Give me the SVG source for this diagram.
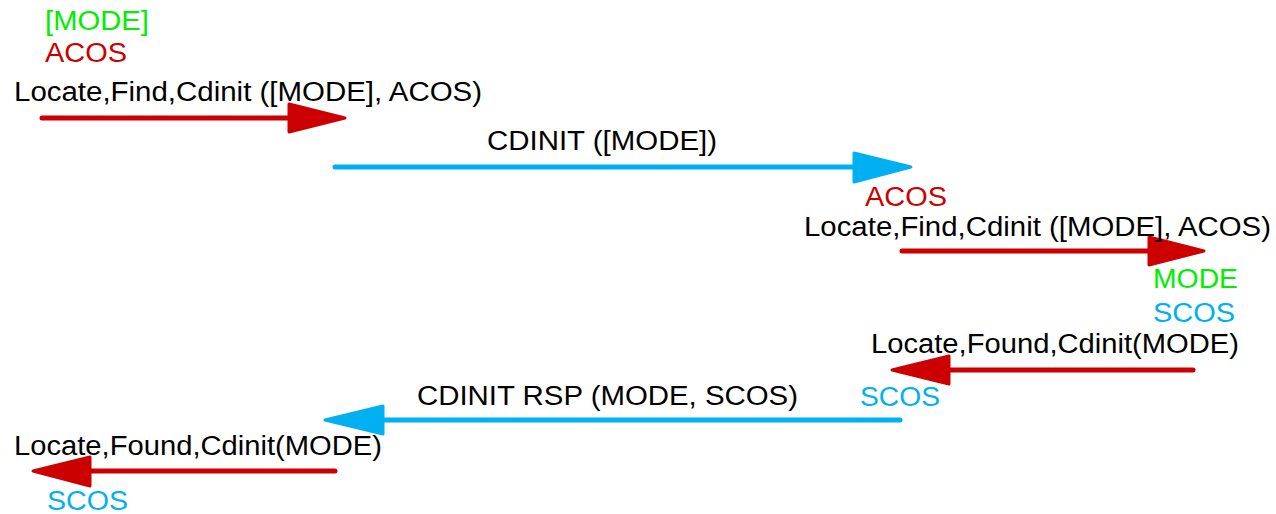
<svg xmlns="http://www.w3.org/2000/svg" width="1276" height="514" viewBox="0 0 1276 514">
  <style>
    text { font-family: "Liberation Sans", Arial, sans-serif; font-size: 27px; }
    .blk { fill: #000000; }
    .red { fill: #cc0000; }
    .grn { fill: #00ee00; }
    .blu { fill: #00b0f0; }
    .lr { stroke: #cc0000; stroke-width: 5; stroke-linecap: round; fill: none; }
    .lb { stroke: #00b0f0; stroke-width: 5; stroke-linecap: round; fill: none; }
    .hr { fill: #cc0000; stroke: #cc0000; stroke-width: 3; stroke-linejoin: round; }
    .hb { fill: #00b0f0; stroke: #00b0f0; stroke-width: 3; stroke-linejoin: round; }
  </style>
  <rect width="1276" height="514" fill="#ffffff"/>

  <g id="connectors">
    <line class="lr" x1="42" y1="118" x2="292" y2="118"/>
    <polygon class="hr" points="289,104 345,118 289,132"/>
    <line class="lb" x1="335" y1="167" x2="856" y2="167"/>
    <polygon class="hb" points="854,153 911,167 854,182"/>
    <line class="lr" x1="902" y1="251" x2="1151" y2="251"/>
    <polygon class="hr" points="1149,237 1204,251 1149,265"/>
    <line class="lr" x1="1193" y1="370" x2="946" y2="370"/>
    <polygon class="hr" points="949,356 892,370 949,384"/>
    <line class="lb" x1="900" y1="420" x2="380" y2="420"/>
    <polygon class="hb" points="383,406 325,420 383,434"/>
    <line class="lr" x1="335" y1="471" x2="87" y2="471"/>
    <polygon class="hr" points="90,457 33,471 90,486"/>
  </g>

  <g id="msg1">
    <text class="grn" x="45" y="30" textLength="104" lengthAdjust="spacingAndGlyphs">[MODE]</text>
    <text class="red" x="45" y="62" textLength="82" lengthAdjust="spacingAndGlyphs">ACOS</text>
    <text class="blk" x="14" y="101" textLength="468" lengthAdjust="spacingAndGlyphs">Locate,Find,Cdinit ([MODE], ACOS)</text>
  </g>

  <g id="msg2">
    <text class="blk" x="487" y="150" textLength="230" lengthAdjust="spacingAndGlyphs">CDINIT ([MODE])</text>
  </g>

  <g id="msg3">
    <text class="red" x="865" y="205.5" textLength="82" lengthAdjust="spacingAndGlyphs">ACOS</text>
    <text class="blk" x="804" y="236" textLength="467" lengthAdjust="spacingAndGlyphs">Locate,Find,Cdinit ([MODE], ACOS)</text>
  </g>

  <g id="msg4">
    <text class="grn" x="1153" y="288" textLength="85" lengthAdjust="spacingAndGlyphs">MODE</text>
    <text class="blu" x="1153" y="322" textLength="82" lengthAdjust="spacingAndGlyphs">SCOS</text>
    <text class="blk" x="871" y="353" textLength="368" lengthAdjust="spacingAndGlyphs">Locate,Found,Cdinit(MODE)</text>
  </g>

  <g id="msg5">
    <text class="blk" x="417" y="405" textLength="381" lengthAdjust="spacingAndGlyphs">CDINIT RSP (MODE, SCOS)</text>
    <text class="blu" x="860" y="406" textLength="80" lengthAdjust="spacingAndGlyphs">SCOS</text>
  </g>

  <g id="msg6">
    <text class="blk" x="14" y="455" textLength="368" lengthAdjust="spacingAndGlyphs">Locate,Found,Cdinit(MODE)</text>
    <text class="blu" x="47" y="510" textLength="81" lengthAdjust="spacingAndGlyphs">SCOS</text>
  </g>
</svg>
